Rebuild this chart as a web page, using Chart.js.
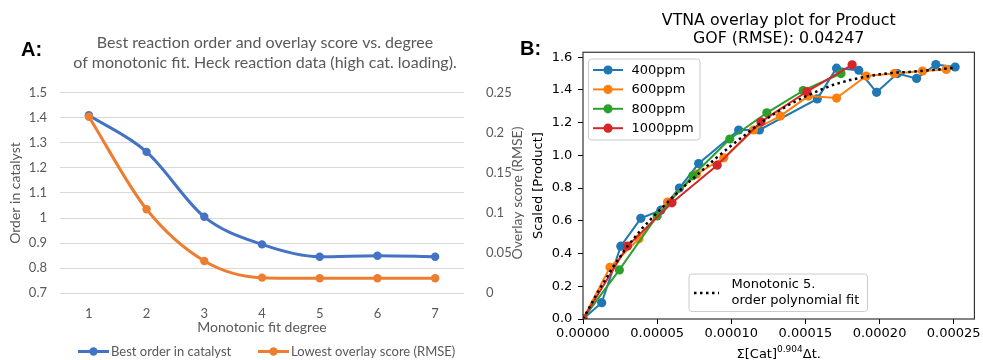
<!DOCTYPE html>
<html>
<head>
<meta charset="utf-8">
<script src="https://cdn.jsdelivr.net/npm/chart.js@4.4.0/dist/chart.umd.min.js"></script>
<style>
  html, body { margin: 0; padding: 0; background: #fff; }
  #wrap { position: relative; width: 983px; height: 360px; overflow: hidden; }
  #chartA { position: absolute; left: 0; top: 0; }
  #chartB { position: absolute; left: 490px; top: 0; }
</style>
</head>
<body>
<div id="wrap">
  <canvas id="chartA" width="530" height="360"></canvas>
  <canvas id="chartB" width="493" height="360"></canvas>
</div>
<script>
// ---- Panel A: best order / overlay score vs. degree ----
const degrees = ['1', '2', '3', '4', '5', '6', '7'];
const bestOrder = [1.41, 1.264, 1.005, 0.895, 0.846, 0.85, 0.846];
const lowestRmse = [0.22, 0.1047, 0.0403, 0.0195, 0.0187, 0.0187, 0.0187];

// ---- Panel B: VTNA overlay ----
const x400 = [0, 1.26e-5, 2.55e-5, 3.9e-5, 5.25e-5, 6.5e-5, 7.8e-5, 10.5e-5, 11.9e-5,
              15.8e-5, 17.1e-5, 18.6e-5, 19.8e-5, 21.2e-5, 22.5e-5, 23.8e-5, 25.1e-5];
const y400 = [0, 0.10, 0.445, 0.615, 0.665, 0.80, 0.95, 1.155, 1.155,
              1.345, 1.533, 1.52, 1.385, 1.50, 1.47, 1.555, 1.54];
const x600 = [0, 1.82e-5, 3.77e-5, 5.7e-5, 7.65e-5, 9.5e-5, 11.5e-5, 13.3e-5,
              15.2e-5, 17.1e-5, 19.1e-5, 21.0e-5, 22.9e-5, 24.5e-5];
const y600 = [0, 0.316, 0.49, 0.715, 0.885, 0.985, 1.155, 1.24,
              1.362, 1.35, 1.485, 1.50, 1.515, 1.525];
const x800 = [0, 2.45e-5, 5.0e-5, 7.4e-5, 9.9e-5, 12.4e-5, 14.85e-5, 17.4e-5];
const y800 = [0, 0.30, 0.63, 0.875, 1.10, 1.26, 1.396, 1.50];
const x1000 = [0, 3.0e-5, 6.0e-5, 9.05e-5, 12.0e-5, 15.1e-5, 18.15e-5];
const y1000 = [0, 0.446, 0.71, 0.94, 1.205, 1.39, 1.553];
const fitX = [0, 1e-5, 2e-5, 3e-5, 4e-5, 5e-5, 6e-5, 7e-5, 8e-5, 9e-5, 10e-5, 11e-5, 12e-5,
              13e-5, 14e-5, 15e-5, 16e-5, 17e-5, 18e-5, 19e-5, 20e-5, 21e-5, 22e-5, 23e-5, 24e-5, 25e-5];
const fitY = [0, 0.165, 0.315, 0.445, 0.555, 0.65, 0.74, 0.825, 0.905, 0.985, 1.06, 1.13, 1.20,
              1.26, 1.315, 1.36, 1.40, 1.435, 1.46, 1.48, 1.495, 1.505, 1.51, 1.518, 1.525, 1.535];
const seriesNames = ['400ppm', '600ppm', '800ppm', '1000ppm'];
const seriesColors = ['#1f77b4', '#ff7f0e', '#2ca02c', '#d62728'];

const pts = (xs, ys) => xs.map((x, i) => ({ x: x, y: ys[i] }));

// ================= Panel A =================
const excelGray = '#595959';
const fontA = 'Lato, "Open Sans", sans-serif';

const panelAExtras = {
  id: 'panelAExtras',
  afterDraw(chart) {
    const ctx = chart.ctx;
    ctx.save();
    ctx.fillStyle = '#000';
    ctx.font = 'bold 20px "Liberation Sans", Arial, sans-serif';
    ctx.textBaseline = 'middle';
    ctx.textAlign = 'left';
    ctx.fillText('A:', 21, 50);

    // 右軸タイトル（下から上に読む）
    ctx.save();
    ctx.translate(517, 193);
    ctx.rotate(-Math.PI / 2);
    ctx.font = '14px ' + fontA;
    ctx.fillStyle = excelGray;
    ctx.textAlign = 'center';
    ctx.fillText('Overlay score (RMSE)', 0, 0);
    ctx.restore();

    // 凡例
    const items = [
      { x: 78, text: 'Best order in catalyst', color: '#4472C4' },
      { x: 258, text: 'Lowest overlay score (RMSE)', color: '#ED7D31' }
    ];
    const ly = 351.5;
    items.forEach(it => {
      ctx.strokeStyle = it.color;
      ctx.lineWidth = 3;
      ctx.beginPath();
      ctx.moveTo(it.x, ly);
      ctx.lineTo(it.x + 31, ly);
      ctx.stroke();
      ctx.fillStyle = it.color;
      ctx.beginPath();
      ctx.arc(it.x + 15.5, ly, 4.2, 0, Math.PI * 2);
      ctx.fill();
      ctx.fillStyle = excelGray;
      ctx.font = '13px ' + fontA;
      ctx.textAlign = 'left';
      ctx.fillText(it.text, it.x + 33, ly);
    });
    ctx.restore();
  }
};

new Chart(document.getElementById('chartA'), {
  type: 'line',
  data: {
    labels: degrees,
    datasets: [
      {
        label: 'Best order in catalyst',
        data: bestOrder,
        yAxisID: 'y',
        borderColor: '#4472C4',
        backgroundColor: '#4472C4',
        borderWidth: 3,
        pointRadius: 4.2,
        pointBorderWidth: 0,
        cubicInterpolationMode: 'monotone',
        order: 2
      },
      {
        label: 'Lowest overlay score (RMSE)',
        data: lowestRmse,
        yAxisID: 'y1',
        borderColor: '#ED7D31',
        backgroundColor: '#ED7D31',
        borderWidth: 3,
        pointRadius: 4.2,
        pointBorderWidth: 0,
        cubicInterpolationMode: 'monotone',
        order: 1
      }
    ]
  },
  options: {
    responsive: false,
    animation: false,
    layout: { padding: { left: 0, right: 0, top: 0, bottom: 20 } },
    plugins: {
      legend: { display: false },
      tooltip: { enabled: false },
      title: {
        display: true,
        text: ['Best reaction order and overlay score vs. degree',
               'of monotonic fit. Heck reaction data (high cat. loading).'],
        color: excelGray,
        font: { family: fontA, size: 16, weight: 'normal', lineHeight: 1.25 },
        padding: { top: 33.3, bottom: 19.4 }
      }
    },
    scales: {
      x: {
        offset: true,
        grid: { display: false, offset: true },
        border: { display: false },
        ticks: { color: excelGray, font: { family: fontA, size: 13 }, padding: 5 },
        title: {
          display: true, text: 'Monotonic fit degree', color: excelGray,
          font: { family: fontA, size: 14 }, padding: { top: 0, bottom: 4 }
        },
        afterFit: s => { s.height = 46.7; }
      },
      y: {
        position: 'left',
        min: 0.7, max: 1.5,
        ticks: {
          stepSize: 0.1, color: excelGray, font: { family: fontA, size: 13 }, padding: 13,
          callback: v => String(Number(v.toFixed(1)))
        },
        grid: { color: '#D9D9D9', lineWidth: 1, drawTicks: false },
        border: { display: false },
        title: {
          display: true, text: 'Order in catalyst', color: excelGray,
          font: { family: fontA, size: 14 }, padding: { top: 6.6, bottom: 0 }
        },
        afterFit: s => { s.width = 60; }
      },
      y1: {
        position: 'right',
        min: 0, max: 0.25,
        ticks: {
          stepSize: 0.05, color: excelGray, font: { family: fontA, size: 13 }, padding: 14,
          callback: v => String(Number(v.toFixed(2)))
        },
        grid: { display: false },
        border: { display: false },
        afterFit: s => { s.width = 66; }
      }
    }
  },
  plugins: [panelAExtras]
});

// ================= Panel B =================
const fontB = '"DejaVu Sans", sans-serif';

const panelBExtras = {
  id: 'panelBExtras',
  afterDraw(chart) {
    const ctx = chart.ctx;
    const a = chart.chartArea;
    ctx.save();

    // 枠線
    ctx.strokeStyle = '#333';
    ctx.lineWidth = 1.2;
    ctx.strokeRect(a.left, a.top, a.right - a.left, a.bottom - a.top);

    // "B:"
    ctx.fillStyle = '#000';
    ctx.font = 'bold 20px "Liberation Sans", Arial, sans-serif';
    ctx.textBaseline = 'middle';
    ctx.fillText('B:', 30, 49.5);

    // 凡例1（系列）
    const roundBox = (x, y, w, h, r) => {
      ctx.beginPath();
      ctx.moveTo(x + r, y);
      ctx.arcTo(x + w, y, x + w, y + h, r);
      ctx.arcTo(x + w, y + h, x, y + h, r);
      ctx.arcTo(x, y + h, x, y, r);
      ctx.arcTo(x, y, x + w, y, r);
      ctx.closePath();
      ctx.fillStyle = 'rgba(255,255,255,0.8)';
      ctx.fill();
      ctx.strokeStyle = '#cccccc';
      ctx.lineWidth = 1;
      ctx.stroke();
    };
    roundBox(98.5, 59, 111.5, 81, 3);
    ctx.font = '13px ' + fontB;
    ctx.textAlign = 'left';
    seriesNames.forEach((name, i) => {
      const y = 70 + i * 19.4;
      ctx.strokeStyle = seriesColors[i];
      ctx.lineWidth = 2;
      ctx.beginPath();
      ctx.moveTo(103, y);
      ctx.lineTo(133, y);
      ctx.stroke();
      ctx.fillStyle = seriesColors[i];
      ctx.beginPath();
      ctx.arc(118, y, 4.6, 0, Math.PI * 2);
      ctx.fill();
      ctx.fillStyle = '#000';
      ctx.fillText(name, 141.5, y + 0.5);
    });

    // 凡例2（フィット）
    roundBox(199, 274, 178.5, 37.5, 3);
    ctx.strokeStyle = '#000';
    ctx.lineWidth = 2.5;
    ctx.setLineDash([2.5, 3.5]);
    ctx.beginPath();
    ctx.moveTo(204, 293);
    ctx.lineTo(229, 293);
    ctx.stroke();
    ctx.setLineDash([]);
    ctx.fillStyle = '#000';
    ctx.fillText('Monotonic 5.', 241.5, 285);
    ctx.fillText('order polynomial fit', 241.5, 300.5);

    // x軸タイトル（上付き文字付き）
    const main1 = 'Σ[Cat]', sup = '0.904', main2 = 'Δt.';
    ctx.font = '13px ' + fontB;
    const w1 = ctx.measureText(main1).width;
    const w3 = ctx.measureText(main2).width;
    ctx.font = '9px ' + fontB;
    const w2 = ctx.measureText(sup).width;
    let x = (a.left + a.right) / 2 - (w1 + w2 + w3) / 2;
    const base = 358;
    ctx.textBaseline = 'alphabetic';
    ctx.font = '13px ' + fontB;
    ctx.fillText(main1, x, base);
    x += w1;
    ctx.font = '9px ' + fontB;
    ctx.fillText(sup, x, base - 6);
    x += w2;
    ctx.font = '13px ' + fontB;
    ctx.fillText(main2, x, base);

    ctx.restore();
  }
};

const lineSeries = [[x400, y400], [x600, y600], [x800, y800], [x1000, y1000]];
const datasetsB = lineSeries.map((s, i) => ({
  label: seriesNames[i],
  data: pts(s[0], s[1]),
  showLine: true,
  borderColor: seriesColors[i],
  backgroundColor: seriesColors[i],
  borderWidth: 2,
  pointRadius: 4.6,
  pointBorderWidth: 0,
  tension: 0,
  order: 4 - i
}));
datasetsB.push({
  label: 'Monotonic 5. order polynomial fit',
  data: pts(fitX, fitY),
  showLine: true,
  borderColor: '#000',
  borderWidth: 2.5,
  borderDash: [2.5, 3.5],
  pointRadius: 0,
  tension: 0,
  order: 0
});

new Chart(document.getElementById('chartB'), {
  type: 'scatter',
  data: { datasets: datasetsB },
  options: {
    responsive: false,
    animation: false,
    layout: { padding: { left: 0, right: 8, top: 0, bottom: 0 } },
    plugins: {
      legend: { display: false },
      tooltip: { enabled: false },
      title: {
        display: true,
        fullSize: false,
        text: ['VTNA overlay plot for Product', 'GOF (RMSE): 0.04247'],
        color: '#000',
        font: { family: fontB, size: 15.8, weight: 'normal', lineHeight: 1.16 },
        padding: { top: 11.8, bottom: 3.8 }
      }
    },
    scales: {
      x: {
        type: 'linear',
        min: 0, max: 0.000264,
        ticks: {
          stepSize: 0.00005, includeBounds: false, color: '#000',
          font: { family: fontB, size: 13 }, padding: 2, maxRotation: 0, autoSkip: false,
          callback: v => v.toFixed(5)
        },
        grid: { drawOnChartArea: false, drawTicks: true, tickLength: 5, color: '#000' },
        border: { display: false },
        afterFit: s => { s.height = 41; }
      },
      y: {
        type: 'linear',
        min: 0, max: 1.63,
        ticks: {
          stepSize: 0.2, includeBounds: false, color: '#000',
          font: { family: fontB, size: 13 }, padding: 5.7,
          callback: v => v.toFixed(1)
        },
        grid: { drawOnChartArea: false, drawTicks: true, tickLength: 5, color: '#000' },
        border: { display: false },
        title: {
          display: true, text: 'Scaled [Product]', color: '#000',
          font: { family: fontB, size: 13 }, padding: { top: 40.5, bottom: 0 }
        },
        afterFit: s => { s.width = 93; }
      }
    }
  },
  plugins: [panelBExtras]
});
</script>
</body>
</html>
